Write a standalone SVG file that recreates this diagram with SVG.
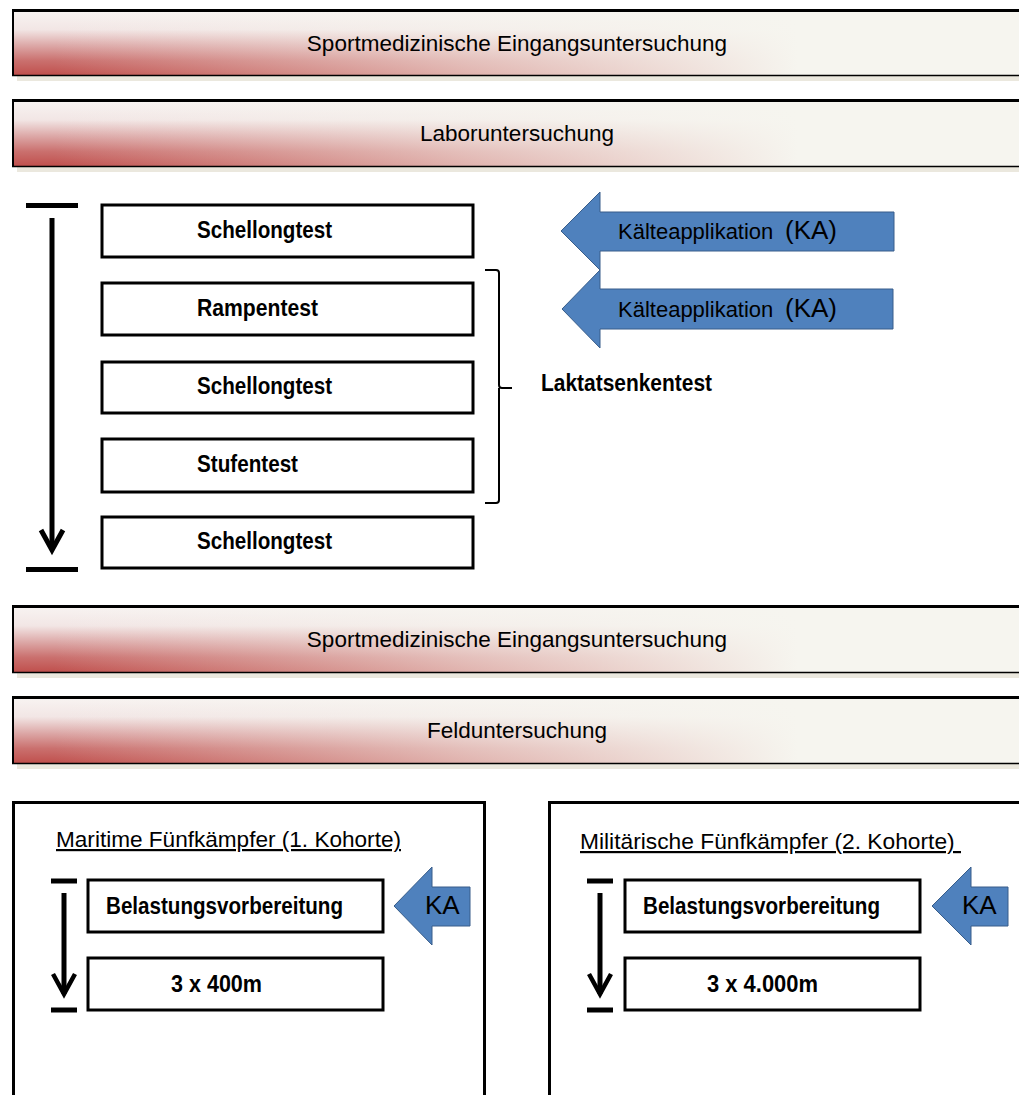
<svg xmlns="http://www.w3.org/2000/svg" width="1019" height="1095" viewBox="0 0 1019 1095">
<defs>
<linearGradient id="vred" x1="0" y1="0" x2="0" y2="1">
<stop offset="0" stop-color="#f8f4f2"/>
<stop offset="0.3" stop-color="#f2e6e5"/>
<stop offset="0.55" stop-color="#dca7a6"/>
<stop offset="0.78" stop-color="#ca706e"/>
<stop offset="1" stop-color="#c0504d"/>
</linearGradient>
<linearGradient id="hcream" x1="0" y1="0" x2="1" y2="0">
<stop offset="0.04" stop-color="#f6f5ef" stop-opacity="0"/>
<stop offset="0.45" stop-color="#f6f5ef" stop-opacity="0.6"/>
<stop offset="0.78" stop-color="#f6f5ef" stop-opacity="1"/>
</linearGradient>
<marker id="chev" viewBox="-25 -15 30 30" refX="0" refY="0" markerWidth="30" markerHeight="30" markerUnits="userSpaceOnUse" orient="auto" overflow="visible">
<path d="M-20,-11 L0,0 L-20,11" fill="none" stroke="#000" stroke-width="5"/>
</marker>
<marker id="chevs" viewBox="-25 -15 30 30" refX="0" refY="0" markerWidth="30" markerHeight="30" markerUnits="userSpaceOnUse" orient="auto" overflow="visible">
<path d="M-20,-11 L0,0 L-20,11" fill="none" stroke="#000" stroke-width="4.5"/>
</marker>
</defs>
<style>
text{font-family:"Liberation Sans",Arial,sans-serif;fill:#000}
.bt{font-size:22.5px;text-anchor:middle}
.bx{fill:#fff;stroke:#000;stroke-width:3}
.bxt{font-size:23px;font-weight:bold}
.ka{fill:#4f81bd;stroke:#385d8a;stroke-width:1}
.kat{font-size:22px}
.kab{font-size:26px}
.shadow{fill:#ebe8de}
.edge{stroke:#000;fill:none}
.bar{stroke:#000;stroke-width:5}
.tl{stroke:#000;stroke-width:5;fill:none}
.tt{font-size:22px;text-decoration:underline}
.coh{fill:#fff;stroke:#000;stroke-width:3}
</style>
<rect width="1019" height="1095" fill="#fff"/>

<g id="banner1">
<rect class="shadow" x="17" y="76" width="1002" height="5"/>
<rect x="13" y="10" width="1006" height="65" fill="url(#vred)"/>
<rect x="13" y="10" width="1006" height="65" fill="url(#hcream)"/>
<path class="edge" stroke-width="3" d="M12,10.5 H1019"/>
<path class="edge" stroke-width="2" d="M13,10 V76"/>
<path class="edge" stroke-width="1.5" d="M12,75.5 H1019"/>
<text class="bt" x="517" y="51">Sportmedizinische Eingangsuntersuchung</text>
</g>

<g id="banner2">
<rect class="shadow" x="17" y="167" width="1002" height="5"/>
<rect x="13" y="100" width="1006" height="66" fill="url(#vred)"/>
<rect x="13" y="100" width="1006" height="66" fill="url(#hcream)"/>
<path class="edge" stroke-width="3" d="M12,100.5 H1019"/>
<path class="edge" stroke-width="2" d="M13,100 V167"/>
<path class="edge" stroke-width="1.5" d="M12,166.5 H1019"/>
<text class="bt" x="517" y="141">Laboruntersuchung</text>
</g>

<g id="box1"><rect class="bx" x="102" y="205" width="371" height="52"/><text class="bxt" x="197" y="238" textLength="135" lengthAdjust="spacingAndGlyphs">Schellongtest</text></g>
<g id="box2"><rect class="bx" x="102" y="283" width="371" height="52"/><text class="bxt" x="197" y="316" textLength="121" lengthAdjust="spacingAndGlyphs">Rampentest</text></g>
<g id="box3"><rect class="bx" x="102" y="362" width="371" height="51"/><text class="bxt" x="197" y="394" textLength="135" lengthAdjust="spacingAndGlyphs">Schellongtest</text></g>
<g id="box4"><rect class="bx" x="102" y="439" width="371" height="53"/><text class="bxt" x="197" y="472" textLength="101" lengthAdjust="spacingAndGlyphs">Stufentest</text></g>
<g id="box5"><rect class="bx" x="102" y="517" width="371" height="51"/><text class="bxt" x="197" y="549" textLength="135" lengthAdjust="spacingAndGlyphs">Schellongtest</text></g>

<g id="laktat">
<path d="M485,270 H496 Q499,270 499,273 V385 Q499,388 502,388 H512 M499,388 V500 Q499,503 496,503 H485" fill="none" stroke="#000" stroke-width="2"/>
<text class="bxt" x="541" y="391" textLength="171" lengthAdjust="spacingAndGlyphs">Laktatsenkentest</text>
</g>

<g id="ka1">
<path class="ka" d="M561,231 L600,192 L600,212 L894,212 L894,251 L600,251 L600,270 Z"/>
<text class="kat" x="618" y="239">Kälteapplikation<tspan class="kab" x="785">(KA)</tspan></text>
</g>
<g id="ka2">
<path class="ka" d="M562,309 L600,270 L600,289 L893,289 L893,329 L600,329 L600,348 Z"/>
<text class="kat" x="618" y="317">Kälteapplikation<tspan class="kab" x="785">(KA)</tspan></text>
</g>

<g id="banner3">
<rect class="shadow" x="17" y="673" width="1002" height="5"/>
<rect x="13" y="606" width="1006" height="66" fill="url(#vred)"/>
<rect x="13" y="606" width="1006" height="66" fill="url(#hcream)"/>
<path class="edge" stroke-width="3" d="M12,606.5 H1019"/>
<path class="edge" stroke-width="2" d="M13,606 V673"/>
<path class="edge" stroke-width="1.5" d="M12,672.5 H1019"/>
<text class="bt" x="517" y="647">Sportmedizinische Eingangsuntersuchung</text>
</g>

<g id="banner4">
<rect class="shadow" x="17" y="764" width="1002" height="5"/>
<rect x="13" y="697" width="1006" height="66" fill="url(#vred)"/>
<rect x="13" y="697" width="1006" height="66" fill="url(#hcream)"/>
<path class="edge" stroke-width="3" d="M12,697.5 H1019"/>
<path class="edge" stroke-width="2" d="M13,697 V764"/>
<path class="edge" stroke-width="1.5" d="M12,763.5 H1019"/>
<text class="bt" x="517" y="738">Felduntersuchung</text>
</g>

<g id="cohort1">
<path class="coh" d="M13.5,1100 V802.5 H484.5 V1100" fill="none"/>
<text class="tt" x="56" y="847" textLength="345" lengthAdjust="spacingAndGlyphs">Maritime Fünfkämpfer (1. Kohorte)</text>
</g>
<g id="c1box1"><rect class="bx" x="88" y="880" width="295" height="52"/><text class="bxt" x="106" y="914" textLength="237" lengthAdjust="spacingAndGlyphs">Belastungsvorbereitung</text></g>
<g id="c1box2"><rect class="bx" x="88" y="958" width="295" height="52"/><text class="bxt" x="171" y="992" textLength="91" lengthAdjust="spacingAndGlyphs">3 x 400m</text></g>
<g id="c1ka">
<path class="ka" d="M394,906 L432,867 L432,887 L470,887 L470,926 L432,926 L432,945 Z"/>
<text class="kab" x="425" y="914" font-size="25">KA</text>
</g>

<g id="cohort2">
<path class="coh" d="M549.5,1100 V802.5 H1025" fill="none"/>
<text class="tt" x="580" y="849" textLength="381" lengthAdjust="spacingAndGlyphs" xml:space="preserve">Militärische Fünfkämpfer (2. Kohorte) </text>
</g>
<g id="c2box1"><rect class="bx" x="625" y="880" width="295" height="52"/><text class="bxt" x="643" y="914" textLength="237" lengthAdjust="spacingAndGlyphs">Belastungsvorbereitung</text></g>
<g id="c2box2"><rect class="bx" x="625" y="958" width="295" height="52"/><text class="bxt" x="707" y="992" textLength="111" lengthAdjust="spacingAndGlyphs">3 x 4.000m</text></g>
<g id="c2ka">
<path class="ka" d="M932,906 L971,867 L971,887 L1008,887 L1008,926 L971,926 L971,945 Z"/>
<text class="kab" x="962" y="914" font-size="25">KA</text>
</g>

<g id="connectors">
<line class="bar" x1="26" y1="205.5" x2="78" y2="205.5"/>
<line class="bar" x1="26" y1="569.5" x2="78" y2="569.5"/>
<path class="tl" d="M52,218 V550" marker-end="url(#chev)"/>
<line class="bar" x1="51" y1="881" x2="77" y2="881"/>
<line class="bar" x1="51" y1="1010" x2="77" y2="1010"/>
<path class="tl" d="M64,893 V994" marker-end="url(#chevs)"/>
<line class="bar" x1="587" y1="881" x2="613" y2="881"/>
<line class="bar" x1="587" y1="1010" x2="613" y2="1010"/>
<path class="tl" d="M600,893 V994" marker-end="url(#chevs)"/>
</g>
</svg>
